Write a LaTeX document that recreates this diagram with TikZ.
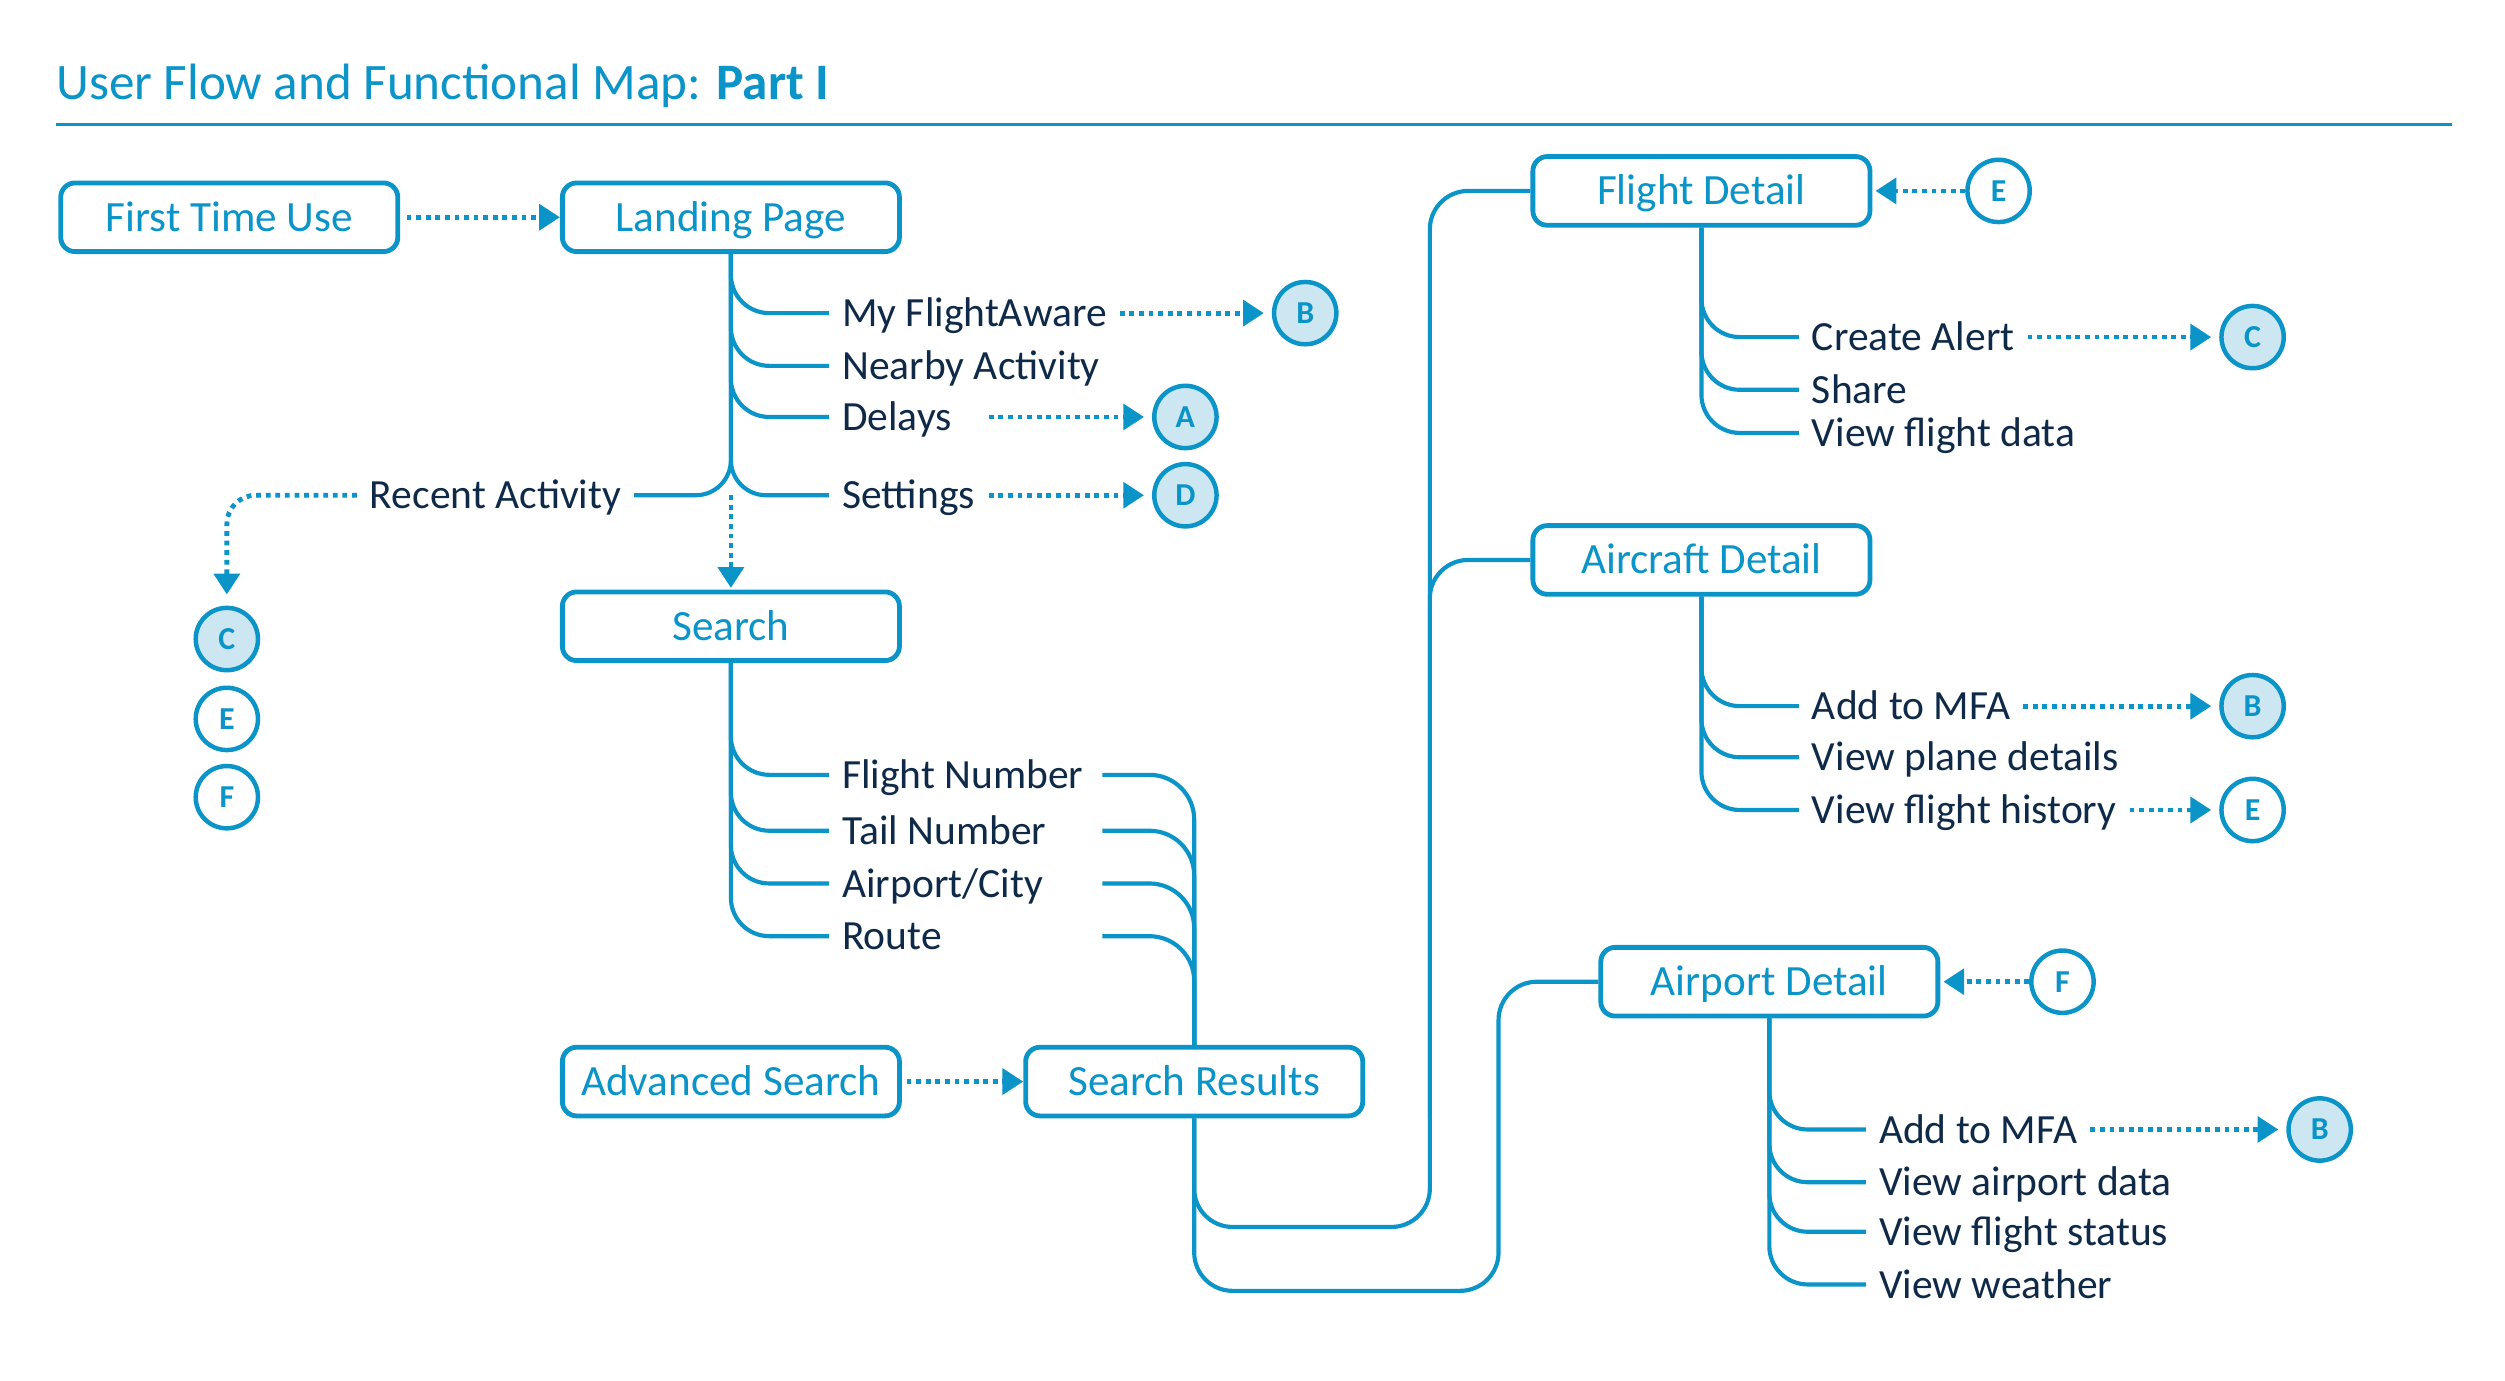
\documentclass[tikz,border=0pt]{standalone}
\usepackage{fontspec}
\setmainfont{Carlito}
\usepackage{tikz}
\usetikzlibrary{positioning,arrows.meta,calc}
\definecolor{fablue}{HTML}{0A94C8}
\definecolor{navy}{HTML}{0F2A48}
\definecolor{refbg}{HTML}{CCE6F2}
\tikzset{
  screen/.style={rectangle,rounded corners=9pt,draw=fablue,line width=3pt,fill=white,
    minimum width=211pt,minimum height=43pt,inner sep=0pt,text=fablue,
    text height=17.5pt,text depth=0pt,font=\fontsize{27}{31}\selectfont},
  item/.style={anchor=west,inner xsep=8pt,inner ysep=0pt,text=navy,
    text height=17pt,text depth=0pt,font=\fontsize{26}{30}\selectfont},
  jump/.style={circle,draw=fablue,line width=2.8pt,minimum size=39pt,inner sep=0pt,
    fill=white,text=fablue,text height=13pt,text depth=0pt,
    font=\bfseries\fontsize{20}{20}\selectfont},
  jumpf/.style={jump,fill=refbg},
  tree/.style={draw=fablue,line width=2.6pt,rounded corners=24pt},
  link/.style={draw=fablue,line width=3pt,dash pattern=on 3pt off 3pt,
    -{Triangle[length=13pt,width=16pt]}},
}
\begin{document}
\begin{tikzpicture}[x=1pt,y=-1pt]
  \useasboundingbox (0,0) rectangle (1568,864);
  \node[anchor=base west,inner sep=0pt,text=fablue,font=\fontsize{32}{36}\selectfont]
    (title) at (35,62) {User Flow and Functional Map: \textbf{Part I}};
  \draw[fablue,line width=2pt] (35,78) -- (1535,78);

  % screens
  \node[screen] (first) at (143.5,136) {First Time Use};
  \node[screen,right=100pt of first] (landing) {Landing Page};
  \node[screen,below=210pt of landing] (search) {Search};
  \node[screen,below=239pt of search] (adv) {Advanced Search};
  \node[screen,right=76pt of adv] (results) {Search Results};
  \node[screen] (flight) at (1065,119.5) {Flight Detail};
  \node[screen,below=185pt of flight] (aircraft) {Aircraft Detail};
  \node[screen] (airport) at (1107.5,614.5) {Airport Detail};

  % menu items
  \node[item] (myfa) at (519,196) {My FlightAware};
  \node[item] (nearby) at (519,229) {Nearby Activity};
  \node[item] (delays) at (519,261) {Delays};
  \node[item] (settings) at (519,310) {Settings};
  \node[item,anchor=east] (recent) at (397,310) {Recent Activity};
  \node[item] (fnum) at (519,485) {Flight Number};
  \node[item] (tnum) at (519,520) {Tail Number};
  \node[item] (city) at (519,553) {Airport/City};
  \node[item] (route) at (519,586) {Route};
  \node[item] (alert) at (1126,211) {Create Alert};
  \node[item] (share) at (1126,244) {Share};
  \node[item] (fdata) at (1126,271) {View flight data};
  \node[item] (acmfa) at (1126,442) {Add to MFA};
  \node[item] (plane) at (1126,474) {View plane details};
  \node[item] (history) at (1126,507) {View flight history};
  \node[item] (apmfa) at (1168,707) {Add to MFA};
  \node[item] (apdata) at (1168,740) {View airport data};
  \node[item] (status) at (1168,771) {View flight status};
  \node[item] (weather) at (1168,804) {View weather};

  % jump markers
  \node[jumpf] (jB1) at (817,196) {B};
  \node[jumpf] (jA) at (742,261) {A};
  \node[jumpf] (jD) at (742,310) {D};
  \node[jumpf] (jC1) at (142,400) {C};
  \node[jump] (jE1) at (142,450) {E};
  \node[jump] (jF1) at (142,499) {F};
  \node[jump] (jE2) at (1251,119.5) {E};
  \node[jumpf] (jC2) at (1410,211) {C};
  \node[jumpf] (jB2) at (1410,442) {B};
  \node[jump] (jE3) at (1410,507) {E};
  \node[jump] (jF2) at (1291,614.5) {F};
  \node[jumpf] (jB3) at (1452,707) {B};

  \coordinate (dotx) at (619,0);
  \coordinate (srx) at (690,0);
  \coordinate (busf) at (895,768);
  \coordinate (busa) at (938,808);

  % trees
  \draw[tree] (landing.south) |- (myfa.west);
  \draw[tree] (landing.south) |- (nearby.west);
  \draw[tree] (landing.south) |- (delays.west);
  \draw[tree,rounded corners=22pt] (landing.south) |- (settings.west);
  \draw[tree,rounded corners=22pt] (landing.south) |- (recent.east);
  \draw[tree] (search.south) |- (fnum.west);
  \draw[tree] (search.south) |- (tnum.west);
  \draw[tree] (search.south) |- (city.west);
  \draw[tree] (search.south) |- (route.west);
  \draw[tree,rounded corners=28pt] (fnum -| srx) -| (results.north);
  \draw[tree,rounded corners=28pt] (tnum -| srx) -| (results.north);
  \draw[tree,rounded corners=28pt] (city -| srx) -| (results.north);
  \draw[tree,rounded corners=28pt] (route -| srx) -| (results.north);
  \draw[tree] (results.south) |- (busf) |- (flight.west);
  \draw[tree] (busf |- results.south) |- (aircraft.west);
  \draw[tree] (results.south) |- (busa) |- (airport.west);
  \draw[tree] (flight.south) |- (alert.west);
  \draw[tree] (flight.south) |- (share.west);
  \draw[tree] (flight.south) |- (fdata.west);
  \draw[tree] (aircraft.south) |- (acmfa.west);
  \draw[tree] (aircraft.south) |- (plane.west);
  \draw[tree] (aircraft.south) |- (history.west);
  \draw[tree] (airport.south) |- (apmfa.west);
  \draw[tree] (airport.south) |- (apdata.west);
  \draw[tree] (airport.south) |- (status.west);
  \draw[tree] (airport.south) |- (weather.west);

  % jumps
  \draw[link,shorten <=4pt] (first.east) -- (landing.west);
  \draw[link,shorten >=5pt] (myfa.east) -- (jB1);
  \draw[link,shorten >=5pt] (delays -| dotx) -- (jA);
  \draw[link,shorten >=5pt] (settings -| dotx) -- (jD);
  \draw[link,rounded corners=18pt,shorten >=7pt] (recent.west) -| (jC1);
  \draw[link,shorten >=1pt] (landing.south |- recent) -- (search);
  \draw[link,shorten <=3pt] (adv.east) -- (results.west);
  \draw[link,shorten >=2pt] (jE2) -- (flight);
  \draw[link,shorten >=5pt] (alert.east) -- (jC2);
  \draw[link,shorten >=5pt] (acmfa.east) -- (jB2);
  \draw[link,shorten >=5pt] (history.east) -- (jE3);
  \draw[link,shorten >=2pt] (jF2) -- (airport);
  \draw[link,shorten >=5pt] (apmfa.east) -- (jB3);
\end{tikzpicture}
\end{document}
